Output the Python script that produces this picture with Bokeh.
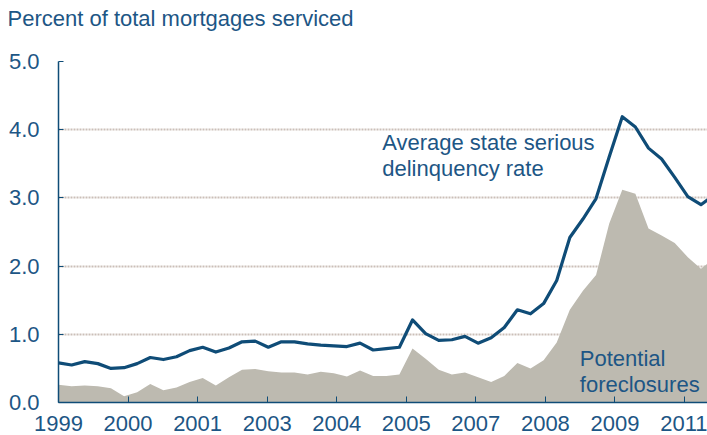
from bokeh.plotting import figure
from bokeh.models import Range1d, FixedTicker, PrintfTickFormatter, Label
from bokeh.embed import file_html
from bokeh.resources import INLINE

# Quarterly data, 1999Q1 ... 2011Q3
delinquency = [0.58, 0.55, 0.60, 0.57, 0.50, 0.51, 0.57, 0.66, 0.63, 0.67,
               0.76, 0.81, 0.74, 0.80, 0.89, 0.90, 0.81, 0.89, 0.89, 0.86,
               0.84, 0.83, 0.82, 0.87, 0.77, 0.79, 0.81, 1.21, 1.01, 0.91,
               0.92, 0.97, 0.87, 0.95, 1.10, 1.36, 1.30, 1.45, 1.79, 2.42,
               2.69, 2.99, 3.60, 4.19, 4.04, 3.73, 3.57, 3.30, 3.02, 2.90,
               3.04]
foreclosures = [0.26, 0.24, 0.25, 0.24, 0.21, 0.09, 0.15, 0.27, 0.18, 0.22,
                0.30, 0.36, 0.25, 0.37, 0.48, 0.49, 0.46, 0.44, 0.44, 0.41,
                0.45, 0.43, 0.38, 0.47, 0.39, 0.39, 0.41, 0.79, 0.64, 0.48,
                0.41, 0.44, 0.37, 0.30, 0.39, 0.58, 0.50, 0.62, 0.88, 1.36,
                1.64, 1.87, 2.62, 3.12, 3.06, 2.55, 2.45, 2.34, 2.13, 1.96,
                2.11]
quarter_index = list(range(len(delinquency)))

x_tick_labels = ["1999", "2000", "2001", "2003", "2004", "2005", "2007", "2008", "2009", "2011"]
y_ticks = [0, 1, 2, 3, 4, 5]

TEXT = "#1d5685"
LINE = "#0f4c77"
AREA = "#bdbab0"
GRID = "#cbbfb8"
FONT = "Liberation Sans"

tick_step = 5.305
x_ticks = [round(k * tick_step, 3) for k in range(len(x_tick_labels))]

p = figure(width=707, height=435, x_range=Range1d(0, 49.5), y_range=Range1d(0, 5),
           output_backend="svg", toolbar_location=None,
           min_border_left=58, min_border_right=0, min_border_top=61, min_border_bottom=33)
p.outline_line_color = None
p.background_fill_color = "white"
p.border_fill_color = "white"

# trailing empty line keeps the title high above the plot frame
p.title.text = "Percent of total mortgages serviced\n"
p.title.text_font = FONT
p.title.text_font_size = "22px"
p.title.text_font_style = "normal"
p.title.text_color = TEXT
p.title.align = "left"
p.title.vertical_align = "top"
p.title.offset = -51
p.title.standoff = 7

p.varea(x=quarter_index, y1=0, y2=foreclosures, fill_color=AREA)
p.line(x=quarter_index, y=delinquency, line_color=LINE, line_width=3.2, line_join="round")

p.xgrid.grid_line_color = None
p.ygrid.ticker = FixedTicker(ticks=y_ticks)
p.ygrid.grid_line_color = GRID
p.ygrid.grid_line_width = 2
p.ygrid.grid_line_dash = "2 1"

ya = p.yaxis[0]
ya.ticker = FixedTicker(ticks=y_ticks)
ya.formatter = PrintfTickFormatter(format="%.1f")
ya.axis_line_color = LINE
ya.axis_line_width = 1.5
ya.major_tick_line_color = LINE
ya.major_tick_in = 5
ya.major_tick_out = 0
ya.minor_tick_line_color = None
ya.major_label_text_font = FONT
ya.major_label_text_font_size = "22px"
ya.major_label_text_color = TEXT
ya.major_label_standoff = 19

xa = p.xaxis[0]
xa.ticker = FixedTicker(ticks=x_ticks)
xa.major_label_overrides = {t: lab for t, lab in zip(x_ticks, x_tick_labels)}
xa.axis_line_color = LINE
xa.axis_line_width = 1.5
xa.major_tick_line_color = LINE
xa.major_tick_in = 6
xa.major_tick_out = 0
xa.minor_tick_line_color = None
xa.major_label_text_font = FONT
xa.major_label_text_font_size = "22px"
xa.major_label_text_color = TEXT
xa.major_label_standoff = 13

def add_label(x, y, text):
    p.add_layout(Label(x=x, y=y, text=text, text_font=FONT, text_font_size="22px",
                       text_color=TEXT, text_baseline="alphabetic", text_align="left"))

add_label(24.69, 3.817, "Average state serious")
add_label(24.69, 3.427, "delinquency rate")
add_label(39.76, 0.641, "Potential")
add_label(39.76, 0.26, "foreclosures")

open("out.html", "w").write(file_html(p, INLINE))
